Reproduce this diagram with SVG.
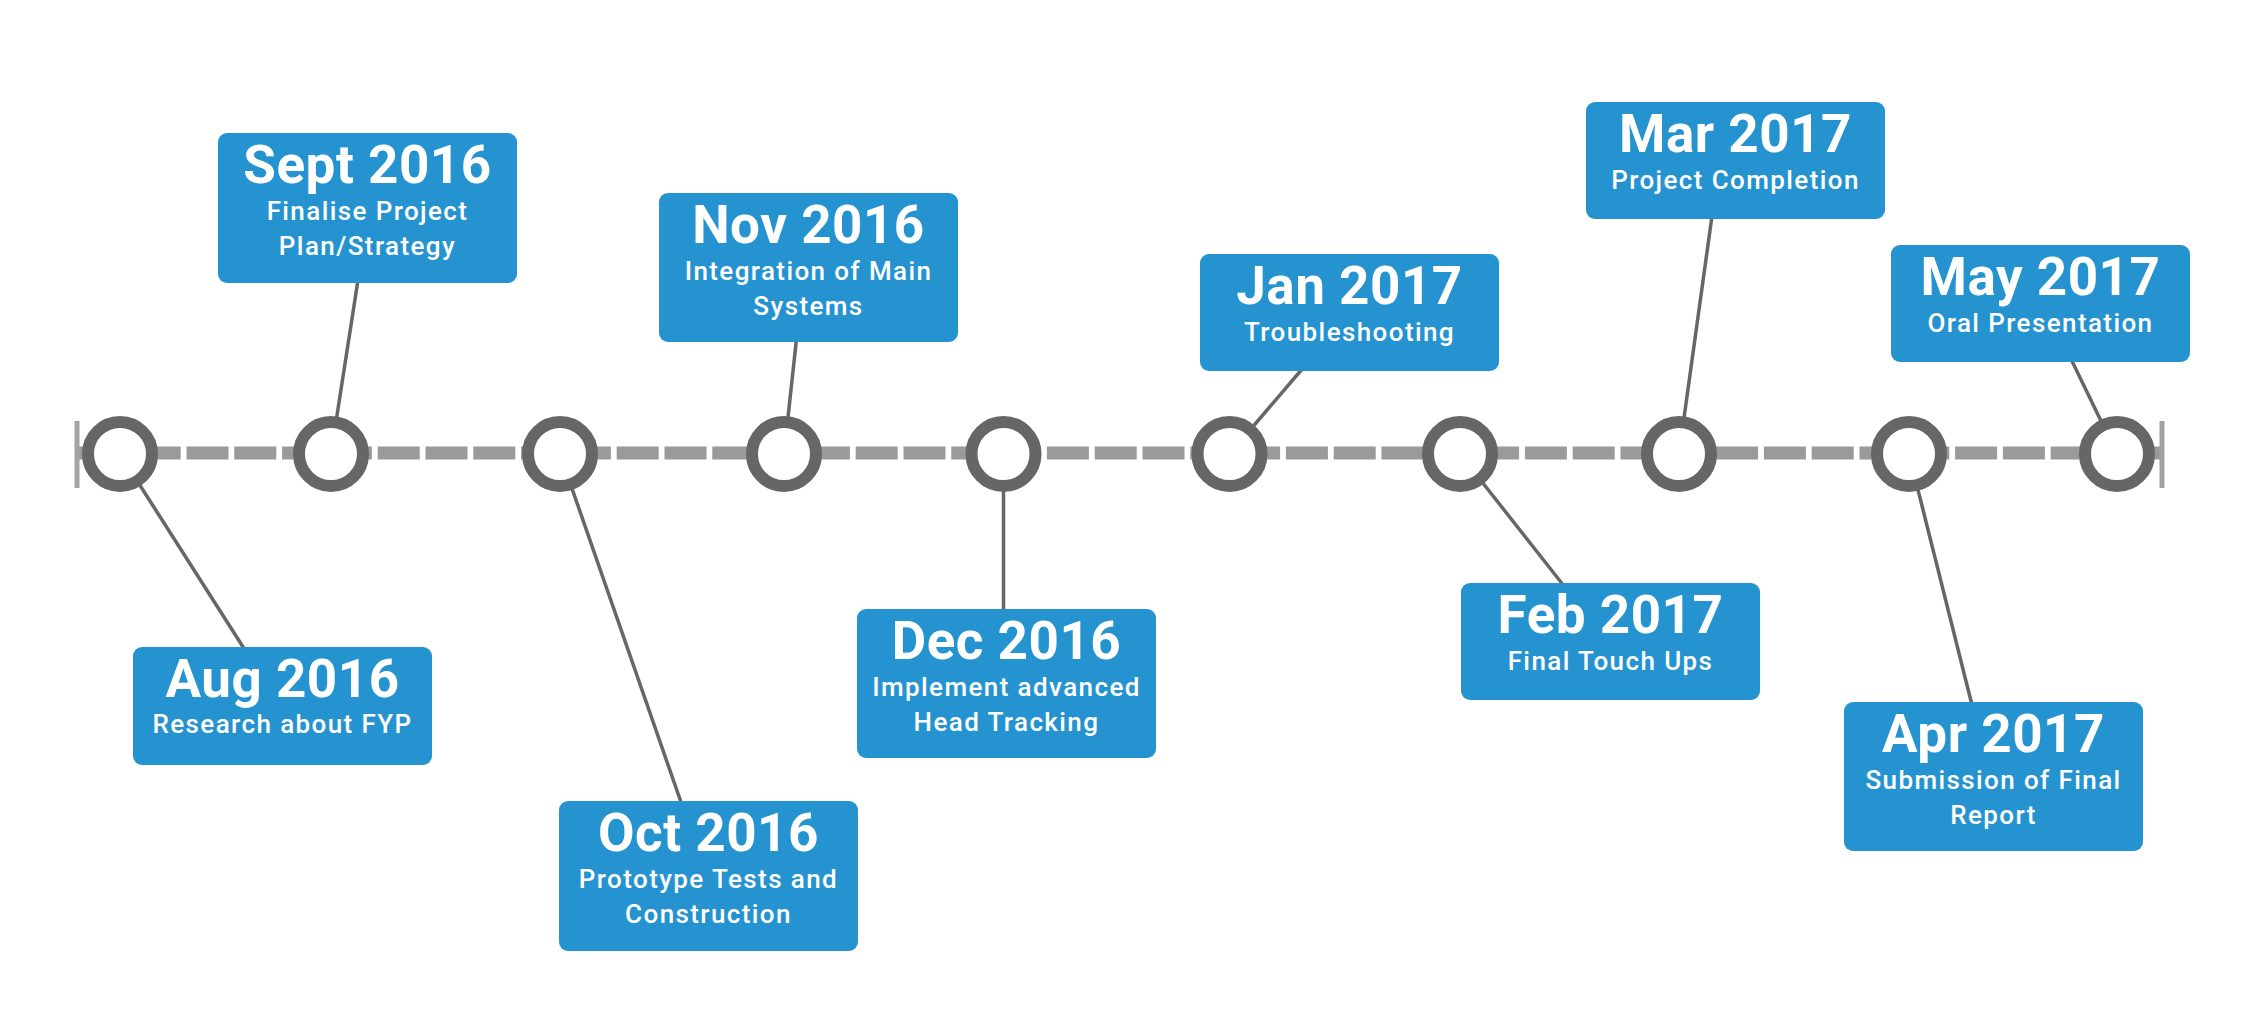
<svg xmlns="http://www.w3.org/2000/svg" width="2246" height="1026" viewBox="0 0 2246 1026">
<style>
.box{fill:#2593d0}
.t{font-family:Roboto,"Liberation Sans",sans-serif;fill:#fff;text-anchor:middle}
.h{font-size:53px;font-weight:700;letter-spacing:0.5px}
.s{font-size:26px;font-weight:500;letter-spacing:1.4px}
.c{fill:#fff;stroke:#666;stroke-width:12}
.cn{stroke:#666;stroke-width:3.5;fill:none}
</style>
<rect width="2246" height="1026" fill="#fff"/>
<g id="timeline">
<line x1="77" y1="453" x2="2160" y2="453" stroke="#9a9a9a" stroke-width="13" stroke-dasharray="42 5.8" stroke-dashoffset="33.9"/>
<line x1="77" y1="421" x2="77" y2="488" stroke="#a3a3a3" stroke-width="5"/>
<line x1="2162" y1="421" x2="2162" y2="488" stroke="#a3a3a3" stroke-width="5"/>
</g>
<g id="connectors">
<line class="cn" x1="120" y1="454" x2="245" y2="650"/>
<line class="cn" x1="331" y1="454" x2="358" y2="280"/>
<line class="cn" x1="560" y1="454" x2="682" y2="805"/>
<line class="cn" x1="784" y1="454" x2="796.5" y2="339"/>
<line class="cn" x1="1003.5" y1="454" x2="1003.5" y2="612"/>
<line class="cn" x1="1229.5" y1="454" x2="1303" y2="368"/>
<line class="cn" x1="1460" y1="454" x2="1564" y2="586"/>
<line class="cn" x1="1679" y1="454" x2="1712" y2="216"/>
<line class="cn" x1="1909" y1="454" x2="1972" y2="705"/>
<line class="cn" x1="2117" y1="454" x2="2071" y2="359"/>
</g>
<g id="markers">
<circle class="c" cx="120" cy="454" r="32"/>
<circle class="c" cx="331" cy="454" r="32"/>
<circle class="c" cx="560" cy="454" r="32"/>
<circle class="c" cx="784" cy="454" r="32"/>
<circle class="c" cx="1003.5" cy="454" r="32"/>
<circle class="c" cx="1229.5" cy="454" r="32"/>
<circle class="c" cx="1460" cy="454" r="32"/>
<circle class="c" cx="1679" cy="454" r="32"/>
<circle class="c" cx="1909" cy="454" r="32"/>
<circle class="c" cx="2117" cy="454" r="32"/>
</g>
<g id="aug">
<rect class="box" x="133" y="647" width="299" height="118" rx="9"/>
<text class="t h" x="282.5" y="697">Aug 2016</text>
<text class="t s" x="282.5" y="733">Research about FYP</text>
</g>
<g id="sept">
<rect class="box" x="218" y="133" width="299" height="150" rx="9"/>
<text class="t h" x="367.5" y="183">Sept 2016</text>
<text class="t s" x="367.5" y="220">Finalise Project</text>
<text class="t s" x="367.5" y="255">Plan/Strategy</text>
</g>
<g id="oct">
<rect class="box" x="559" y="801" width="299" height="150" rx="9"/>
<text class="t h" x="708.5" y="851">Oct 2016</text>
<text class="t s" x="708.5" y="888">Prototype Tests and</text>
<text class="t s" x="708.5" y="923">Construction</text>
</g>
<g id="nov">
<rect class="box" x="659" y="193" width="299" height="149" rx="9"/>
<text class="t h" x="808.5" y="243">Nov 2016</text>
<text class="t s" x="808.5" y="280">Integration of Main</text>
<text class="t s" x="808.5" y="315">Systems</text>
</g>
<g id="dec">
<rect class="box" x="857" y="609" width="299" height="149" rx="9"/>
<text class="t h" x="1006.5" y="659">Dec 2016</text>
<text class="t s" x="1006.5" y="696">Implement advanced</text>
<text class="t s" x="1006.5" y="731">Head Tracking</text>
</g>
<g id="jan">
<rect class="box" x="1200" y="254" width="299" height="117" rx="9"/>
<text class="t h" x="1349.5" y="304">Jan 2017</text>
<text class="t s" x="1349.5" y="341">Troubleshooting</text>
</g>
<g id="feb">
<rect class="box" x="1461" y="583" width="299" height="117" rx="9"/>
<text class="t h" x="1610.5" y="633">Feb 2017</text>
<text class="t s" x="1610.5" y="670">Final Touch Ups</text>
</g>
<g id="mar">
<rect class="box" x="1586" y="102" width="299" height="117" rx="9"/>
<text class="t h" x="1735.5" y="152">Mar 2017</text>
<text class="t s" x="1735.5" y="189">Project Completion</text>
</g>
<g id="apr">
<rect class="box" x="1844" y="702" width="299" height="149" rx="9"/>
<text class="t h" x="1993.5" y="752">Apr 2017</text>
<text class="t s" x="1993.5" y="789">Submission of Final</text>
<text class="t s" x="1993.5" y="824">Report</text>
</g>
<g id="may">
<rect class="box" x="1891" y="245" width="299" height="117" rx="9"/>
<text class="t h" x="2040.5" y="295">May 2017</text>
<text class="t s" x="2040.5" y="332">Oral Presentation</text>
</g>
</svg>
